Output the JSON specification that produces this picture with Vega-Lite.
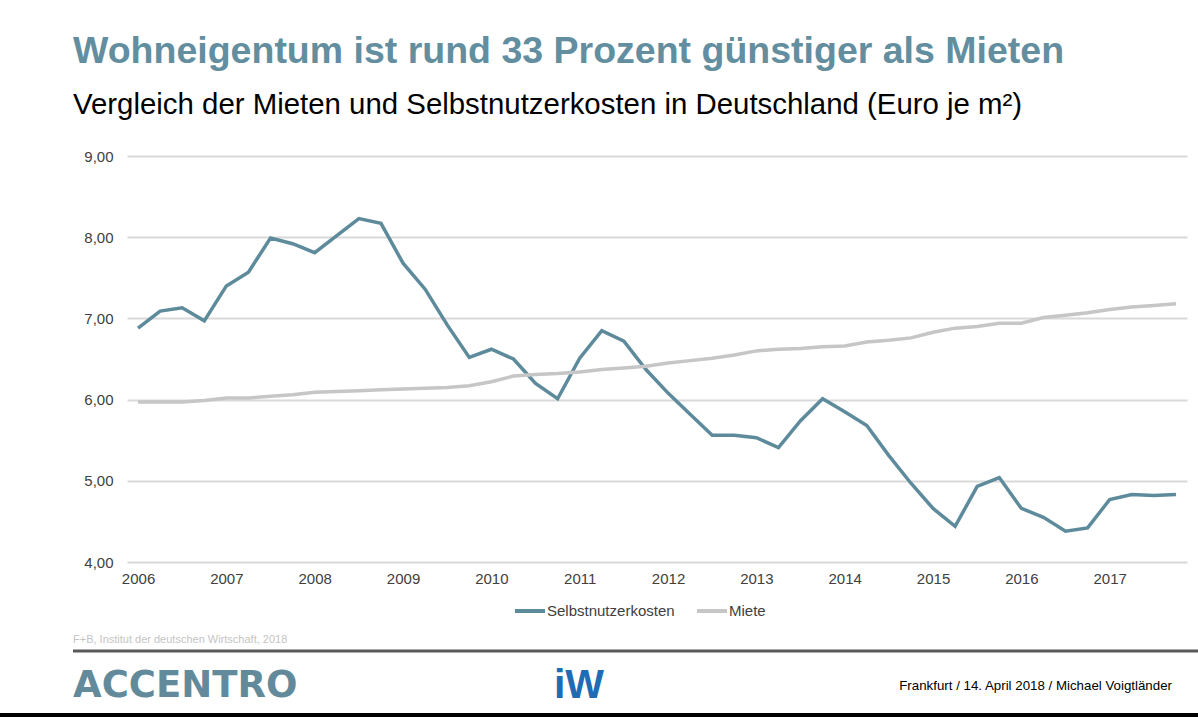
{
  "$schema": "https://vega.github.io/schema/vega-lite/v6.json",
  "width": 1060,
  "height": 406,
  "autosize": {"type": "none"},
  "padding": {"left": 127, "top": 156, "right": 11, "bottom": 156},
  "background": "#ffffff",
  "title": {
    "text": "Wohneigentum ist rund 33 Prozent günstiger als Mieten",
    "subtitle": "Vergleich der Mieten und Selbstnutzerkosten in Deutschland (Euro je m²)",
    "anchor": "start",
    "frame": "group",
    "dx": -54,
    "offset": 30,
    "font": "Liberation Sans",
    "fontSize": 37.5,
    "fontWeight": "bold",
    "color": "#628EA0",
    "subtitleFont": "Liberation Sans",
    "subtitleFontSize": 29.4,
    "subtitleColor": "#000000",
    "subtitlePadding": 20
  },
  "config": {
    "font": "Liberation Sans",
    "view": {"stroke": null},
    "axis": {
      "labelFont": "Liberation Sans",
      "labelFontSize": 15,
      "labelColor": "#404040",
      "ticks": false,
      "domain": false,
      "title": null
    }
  },
  "layer": [
    {
      "data": {
        "values": [
          {"quartal": "2006-Q1", "Selbstnutzerkosten": 6.88, "Miete": 5.97},
          {"quartal": "2006-Q2", "Selbstnutzerkosten": 7.09, "Miete": 5.97},
          {"quartal": "2006-Q3", "Selbstnutzerkosten": 7.13, "Miete": 5.97},
          {"quartal": "2006-Q4", "Selbstnutzerkosten": 6.97, "Miete": 5.99},
          {"quartal": "2007-Q1", "Selbstnutzerkosten": 7.40, "Miete": 6.02},
          {"quartal": "2007-Q2", "Selbstnutzerkosten": 7.57, "Miete": 6.02},
          {"quartal": "2007-Q3", "Selbstnutzerkosten": 7.99, "Miete": 6.04},
          {"quartal": "2007-Q4", "Selbstnutzerkosten": 7.92, "Miete": 6.06},
          {"quartal": "2008-Q1", "Selbstnutzerkosten": 7.81, "Miete": 6.09},
          {"quartal": "2008-Q2", "Selbstnutzerkosten": 8.02, "Miete": 6.10},
          {"quartal": "2008-Q3", "Selbstnutzerkosten": 8.23, "Miete": 6.11},
          {"quartal": "2008-Q4", "Selbstnutzerkosten": 8.17, "Miete": 6.12},
          {"quartal": "2009-Q1", "Selbstnutzerkosten": 7.68, "Miete": 6.13},
          {"quartal": "2009-Q2", "Selbstnutzerkosten": 7.36, "Miete": 6.14},
          {"quartal": "2009-Q3", "Selbstnutzerkosten": 6.92, "Miete": 6.15},
          {"quartal": "2009-Q4", "Selbstnutzerkosten": 6.52, "Miete": 6.17},
          {"quartal": "2010-Q1", "Selbstnutzerkosten": 6.62, "Miete": 6.22},
          {"quartal": "2010-Q2", "Selbstnutzerkosten": 6.50, "Miete": 6.29},
          {"quartal": "2010-Q3", "Selbstnutzerkosten": 6.20, "Miete": 6.31},
          {"quartal": "2010-Q4", "Selbstnutzerkosten": 6.01, "Miete": 6.32},
          {"quartal": "2011-Q1", "Selbstnutzerkosten": 6.51, "Miete": 6.34},
          {"quartal": "2011-Q2", "Selbstnutzerkosten": 6.85, "Miete": 6.37},
          {"quartal": "2011-Q3", "Selbstnutzerkosten": 6.72, "Miete": 6.39},
          {"quartal": "2011-Q4", "Selbstnutzerkosten": 6.37, "Miete": 6.41},
          {"quartal": "2012-Q1", "Selbstnutzerkosten": 6.08, "Miete": 6.45},
          {"quartal": "2012-Q2", "Selbstnutzerkosten": 5.82, "Miete": 6.48},
          {"quartal": "2012-Q3", "Selbstnutzerkosten": 5.56, "Miete": 6.51},
          {"quartal": "2012-Q4", "Selbstnutzerkosten": 5.56, "Miete": 6.55},
          {"quartal": "2013-Q1", "Selbstnutzerkosten": 5.53, "Miete": 6.60},
          {"quartal": "2013-Q2", "Selbstnutzerkosten": 5.41, "Miete": 6.62},
          {"quartal": "2013-Q3", "Selbstnutzerkosten": 5.74, "Miete": 6.63},
          {"quartal": "2013-Q4", "Selbstnutzerkosten": 6.01, "Miete": 6.65},
          {"quartal": "2014-Q1", "Selbstnutzerkosten": 5.85, "Miete": 6.66},
          {"quartal": "2014-Q2", "Selbstnutzerkosten": 5.68, "Miete": 6.71},
          {"quartal": "2014-Q3", "Selbstnutzerkosten": 5.31, "Miete": 6.73},
          {"quartal": "2014-Q4", "Selbstnutzerkosten": 4.97, "Miete": 6.76},
          {"quartal": "2015-Q1", "Selbstnutzerkosten": 4.66, "Miete": 6.83},
          {"quartal": "2015-Q2", "Selbstnutzerkosten": 4.44, "Miete": 6.88},
          {"quartal": "2015-Q3", "Selbstnutzerkosten": 4.93, "Miete": 6.90},
          {"quartal": "2015-Q4", "Selbstnutzerkosten": 5.04, "Miete": 6.94},
          {"quartal": "2016-Q1", "Selbstnutzerkosten": 4.66, "Miete": 6.94},
          {"quartal": "2016-Q2", "Selbstnutzerkosten": 4.55, "Miete": 7.01},
          {"quartal": "2016-Q3", "Selbstnutzerkosten": 4.38, "Miete": 7.04},
          {"quartal": "2016-Q4", "Selbstnutzerkosten": 4.42, "Miete": 7.07},
          {"quartal": "2017-Q1", "Selbstnutzerkosten": 4.77, "Miete": 7.11},
          {"quartal": "2017-Q2", "Selbstnutzerkosten": 4.83, "Miete": 7.14},
          {"quartal": "2017-Q3", "Selbstnutzerkosten": 4.82, "Miete": 7.16},
          {"quartal": "2017-Q4", "Selbstnutzerkosten": 4.83, "Miete": 7.18}
        ]
      },
      "transform": [
        {"fold": ["Selbstnutzerkosten", "Miete"], "as": ["reihe", "wert"]}
      ],
      "mark": {"type": "line", "strokeWidth": 3.5, "strokeJoin": "miter"},
      "encoding": {
        "x": {
          "field": "quartal",
          "type": "ordinal",
          "sort": null,
          "scale": {"type": "point", "padding": 0.5},
          "axis": {
            "values": ["2006-Q1", "2007-Q1", "2008-Q1", "2009-Q1", "2010-Q1", "2011-Q1", "2012-Q1", "2013-Q1", "2014-Q1", "2015-Q1", "2016-Q1", "2017-Q1"],
            "labelExpr": "substring(datum.value, 0, 4)",
            "labelAngle": 0,
            "labelPadding": 9,
            "grid": false
          }
        },
        "y": {
          "field": "wert",
          "type": "quantitative",
          "scale": {"domain": [4, 9], "nice": false, "zero": false},
          "axis": {
            "values": [4, 5, 6, 7, 8, 9],
            "labelExpr": "replace(format(datum.value, '.2f'), '.', ',')",
            "labelPadding": 14,
            "grid": true,
            "gridColor": "#D9D9D9",
            "gridWidth": 2
          }
        },
        "color": {
          "field": "reihe",
          "type": "nominal",
          "scale": {"domain": ["Selbstnutzerkosten", "Miete"], "range": ["#5E8B9B", "#C6C6C6"]},
          "legend": {
            "title": null,
            "orient": "none",
            "direction": "horizontal",
            "legendX": 386,
            "legendY": 438,
            "symbolType": "stroke",
            "symbolSize": 900,
            "symbolStrokeWidth": 4,
            "labelFont": "Liberation Sans",
            "labelFontSize": 15,
            "labelColor": "#404040",
            "labelOffset": 0,
            "columnPadding": 14
          }
        }
      }
    },
    {
      "data": {"values": [{"text": "F+B, Institut der deutschen Wirtschaft, 2018"}]},
      "mark": {"type": "text", "x": -54, "y": 484, "align": "left", "baseline": "middle", "fontSize": 11, "color": "#C4C4C4"},
      "encoding": {"text": {"field": "text"}}
    },
    {
      "data": {"values": [{"text": "ACCENTRO"}]},
      "mark": {"type": "text", "x": -54, "y": 530, "align": "left", "baseline": "middle", "font": "DejaVu Sans", "fontWeight": "bold", "fontSize": 37, "color": "#628A9A"},
      "encoding": {"text": {"field": "text"}}
    },
    {
      "data": {"values": [{"text": "iW"}]},
      "mark": {"type": "text", "x": 452, "y": 542, "align": "center", "baseline": "alphabetic", "fontWeight": "bold", "fontSize": 41, "color": "#1F6CB5"},
      "encoding": {"text": {"field": "text"}}
    },
    {
      "data": {"values": [{"text": "Frankfurt / 14. April 2018 / Michael Voigtländer"}]},
      "mark": {"type": "text", "x": 1045, "y": 530, "align": "right", "baseline": "middle", "fontSize": 13.3, "color": "#000000"},
      "encoding": {"text": {"field": "text"}}
    },
    {
      "data": {"values": [{}]},
      "mark": {"type": "rule", "strokeWidth": 3, "color": "#595959"},
      "encoding": {
        "x": {"value": -54},
        "x2": {"value": 1071},
        "y": {"value": 495},
        "y2": {"value": 495}
      }
    },
    {
      "data": {"values": [{}]},
      "mark": {"type": "rule", "strokeWidth": 4, "color": "#000000"},
      "encoding": {
        "x": {"value": -127},
        "x2": {"value": 1071},
        "y": {"value": 559},
        "y2": {"value": 559}
      }
    }
  ]
}
